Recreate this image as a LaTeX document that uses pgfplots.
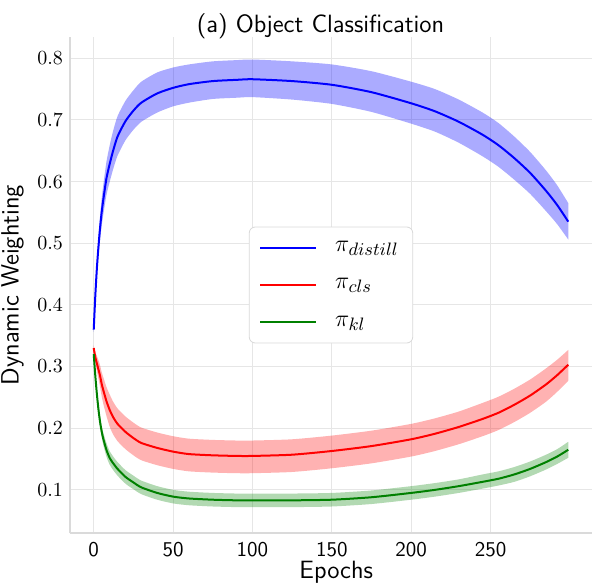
\documentclass[border=0pt]{standalone}
\usepackage{pgfplots}
\pgfplotsset{compat=1.18}
\usepackage{pgfplotstable}
\usepgfplotslibrary{fillbetween}
\usetikzlibrary{calc}

\definecolor{gridgray}{HTML}{E6E6E6}
\definecolor{spine}{HTML}{DADADA}
\definecolor{cgreen}{HTML}{008000}

% epoch, mean, lower and upper edge of the noisy band
\pgfplotstableread{
x   m     lo    hi
0   0.360 0.356 0.364
1   0.415 0.407 0.423
2   0.460 0.448 0.472
3   0.495 0.479 0.511
4   0.525 0.506 0.544
5   0.550 0.528 0.572
6   0.570 0.546 0.594
8   0.605 0.578 0.632
10  0.628 0.599 0.658
12  0.648 0.618 0.680
15  0.673 0.642 0.706
20  0.698 0.667 0.731
25  0.715 0.684 0.748
30  0.728 0.697 0.762
40  0.743 0.712 0.777
50  0.752 0.722 0.785
60  0.758 0.728 0.790
75  0.763 0.734 0.795
90  0.765 0.736 0.797
100 0.766 0.737 0.798
125 0.763 0.733 0.795
150 0.757 0.726 0.790
175 0.745 0.713 0.779
200 0.727 0.694 0.762
215 0.714 0.681 0.750
230 0.697 0.663 0.733
245 0.676 0.641 0.712
255 0.659 0.624 0.695
265 0.638 0.603 0.673
275 0.614 0.580 0.648
285 0.585 0.552 0.618
292 0.562 0.531 0.594
299 0.535 0.506 0.565
}\distill

\pgfplotstableread{
x   m     lo    hi
0   0.330 0.326 0.334
1   0.315 0.307 0.323
2   0.305 0.293 0.317
3   0.295 0.280 0.310
4   0.285 0.267 0.302
5   0.272 0.252 0.291
6   0.262 0.240 0.283
8   0.244 0.220 0.267
10  0.230 0.203 0.255
12  0.219 0.191 0.244
15  0.207 0.179 0.232
20  0.194 0.166 0.219
25  0.184 0.156 0.209
30  0.176 0.148 0.201
40  0.168 0.140 0.193
50  0.162 0.134 0.187
60  0.158 0.130 0.183
75  0.156 0.128 0.181
90  0.155 0.127 0.180
100 0.155 0.127 0.180
125 0.157 0.129 0.182
150 0.163 0.135 0.188
175 0.171 0.143 0.196
200 0.182 0.154 0.207
215 0.191 0.163 0.216
230 0.202 0.174 0.227
245 0.215 0.187 0.241
255 0.225 0.197 0.251
265 0.238 0.210 0.264
275 0.253 0.225 0.279
285 0.271 0.243 0.297
292 0.286 0.259 0.311
299 0.303 0.277 0.327
}\cls

\pgfplotstableread{
x   m     lo    hi
0   0.320 0.317 0.323
1   0.285 0.280 0.290
2   0.255 0.248 0.262
3   0.230 0.222 0.238
4   0.210 0.201 0.219
5   0.195 0.186 0.204
6   0.183 0.173 0.193
8   0.165 0.154 0.176
10  0.152 0.141 0.163
12  0.144 0.133 0.155
15  0.134 0.123 0.145
20  0.121 0.110 0.132
25  0.112 0.101 0.123
30  0.104 0.093 0.115
40  0.095 0.084 0.106
50  0.089 0.078 0.100
60  0.086 0.075 0.097
75  0.084 0.073 0.095
90  0.083 0.072 0.094
100 0.083 0.072 0.094
125 0.083 0.072 0.094
150 0.084 0.073 0.095
175 0.088 0.077 0.099
200 0.095 0.084 0.106
215 0.100 0.089 0.111
230 0.106 0.095 0.117
245 0.113 0.102 0.125
255 0.118 0.107 0.130
265 0.125 0.113 0.137
275 0.134 0.122 0.146
285 0.145 0.133 0.157
292 0.154 0.142 0.166
299 0.165 0.152 0.178
}\kl

\begin{document}
\begin{tikzpicture}
\begin{axis}[
  scale only axis, width=261pt, height=248pt,
  xmin=-14.95, xmax=313.95, ymin=0.03, ymax=0.8345,
  axis x line=bottom, axis y line=left,
  axis line style={-, spine, line width=0.6pt},
  grid=major, grid style={gridgray, line width=0.5pt},
  major tick length=0pt,
  xtick={0,50,...,250}, ytick={0.1,0.2,...,0.8},
  xticklabel style={font=\sffamily\fontsize{10.5}{12}\selectfont,
    /pgf/number format/assume math mode=true, yshift=-1pt},
  yticklabel style={font=\fontsize{10}{12}\selectfont,
    /pgf/number format/.cd, fixed, fixed zerofill, precision=1},
  xlabel={Epochs}, ylabel={Dynamic Weighting},
  label style={font=\sffamily\fontsize{12.5}{14}\selectfont},
  xlabel style={at={(axis description cs:0.51,0)}, anchor=base, yshift=-22.5pt},
  title={(a) Object Classification},
  title style={font=\sffamily\fontsize{12.5}{14}\selectfont,
    at={(axis description cs:0.48,1)}, anchor=base, inner sep=0pt, yshift=-4pt},
  legend style={at={(0.5,0.5)}, anchor=center, draw=black!15, fill=white,
    rounded corners=3pt, font=\fontsize{13}{15}\selectfont,
    row sep=8pt, inner xsep=5pt, inner ysep=5pt},
  legend cell align=left,
  legend image code/.code={\draw[#1] (0pt,0pt) -- (28pt,0pt); \path (35pt,0pt);},
]
\addplot[draw=none, name path=bhi, forget plot, smooth, tension=0.4] table[x=x,y=hi]{\distill};
\addplot[draw=none, name path=blo, forget plot, smooth, tension=0.4] table[x=x,y=lo]{\distill};
\addplot[fill=blue, fill opacity=0.33, draw=none, forget plot] fill between[of=bhi and blo];
\addplot[blue, line width=1pt, smooth, tension=0.4] table[x=x,y=m]{\distill};

\addplot[draw=none, name path=rhi, forget plot, smooth, tension=0.4] table[x=x,y=hi]{\cls};
\addplot[draw=none, name path=rlo, forget plot, smooth, tension=0.4] table[x=x,y=lo]{\cls};
\addplot[fill=red, fill opacity=0.3, draw=none, forget plot] fill between[of=rhi and rlo];
\addplot[red, line width=1pt, smooth, tension=0.4] table[x=x,y=m]{\cls};

\addplot[draw=none, name path=ghi, forget plot, smooth, tension=0.4] table[x=x,y=hi]{\kl};
\addplot[draw=none, name path=glo, forget plot, smooth, tension=0.4] table[x=x,y=lo]{\kl};
\addplot[fill=cgreen, fill opacity=0.3, draw=none, forget plot] fill between[of=ghi and glo];
\addplot[cgreen, line width=1pt, smooth, tension=0.4] table[x=x,y=m]{\kl};

\legend{$\pi_{distill}$,$\pi_{cls}$,$\pi_{kl}$}
\end{axis}
\pgfresetboundingbox
\path ($(current axis.south west)+(-35pt,-25pt)$) rectangle ($(current axis.north east)+(0pt,18.5pt)$);
\end{tikzpicture}
\end{document}
